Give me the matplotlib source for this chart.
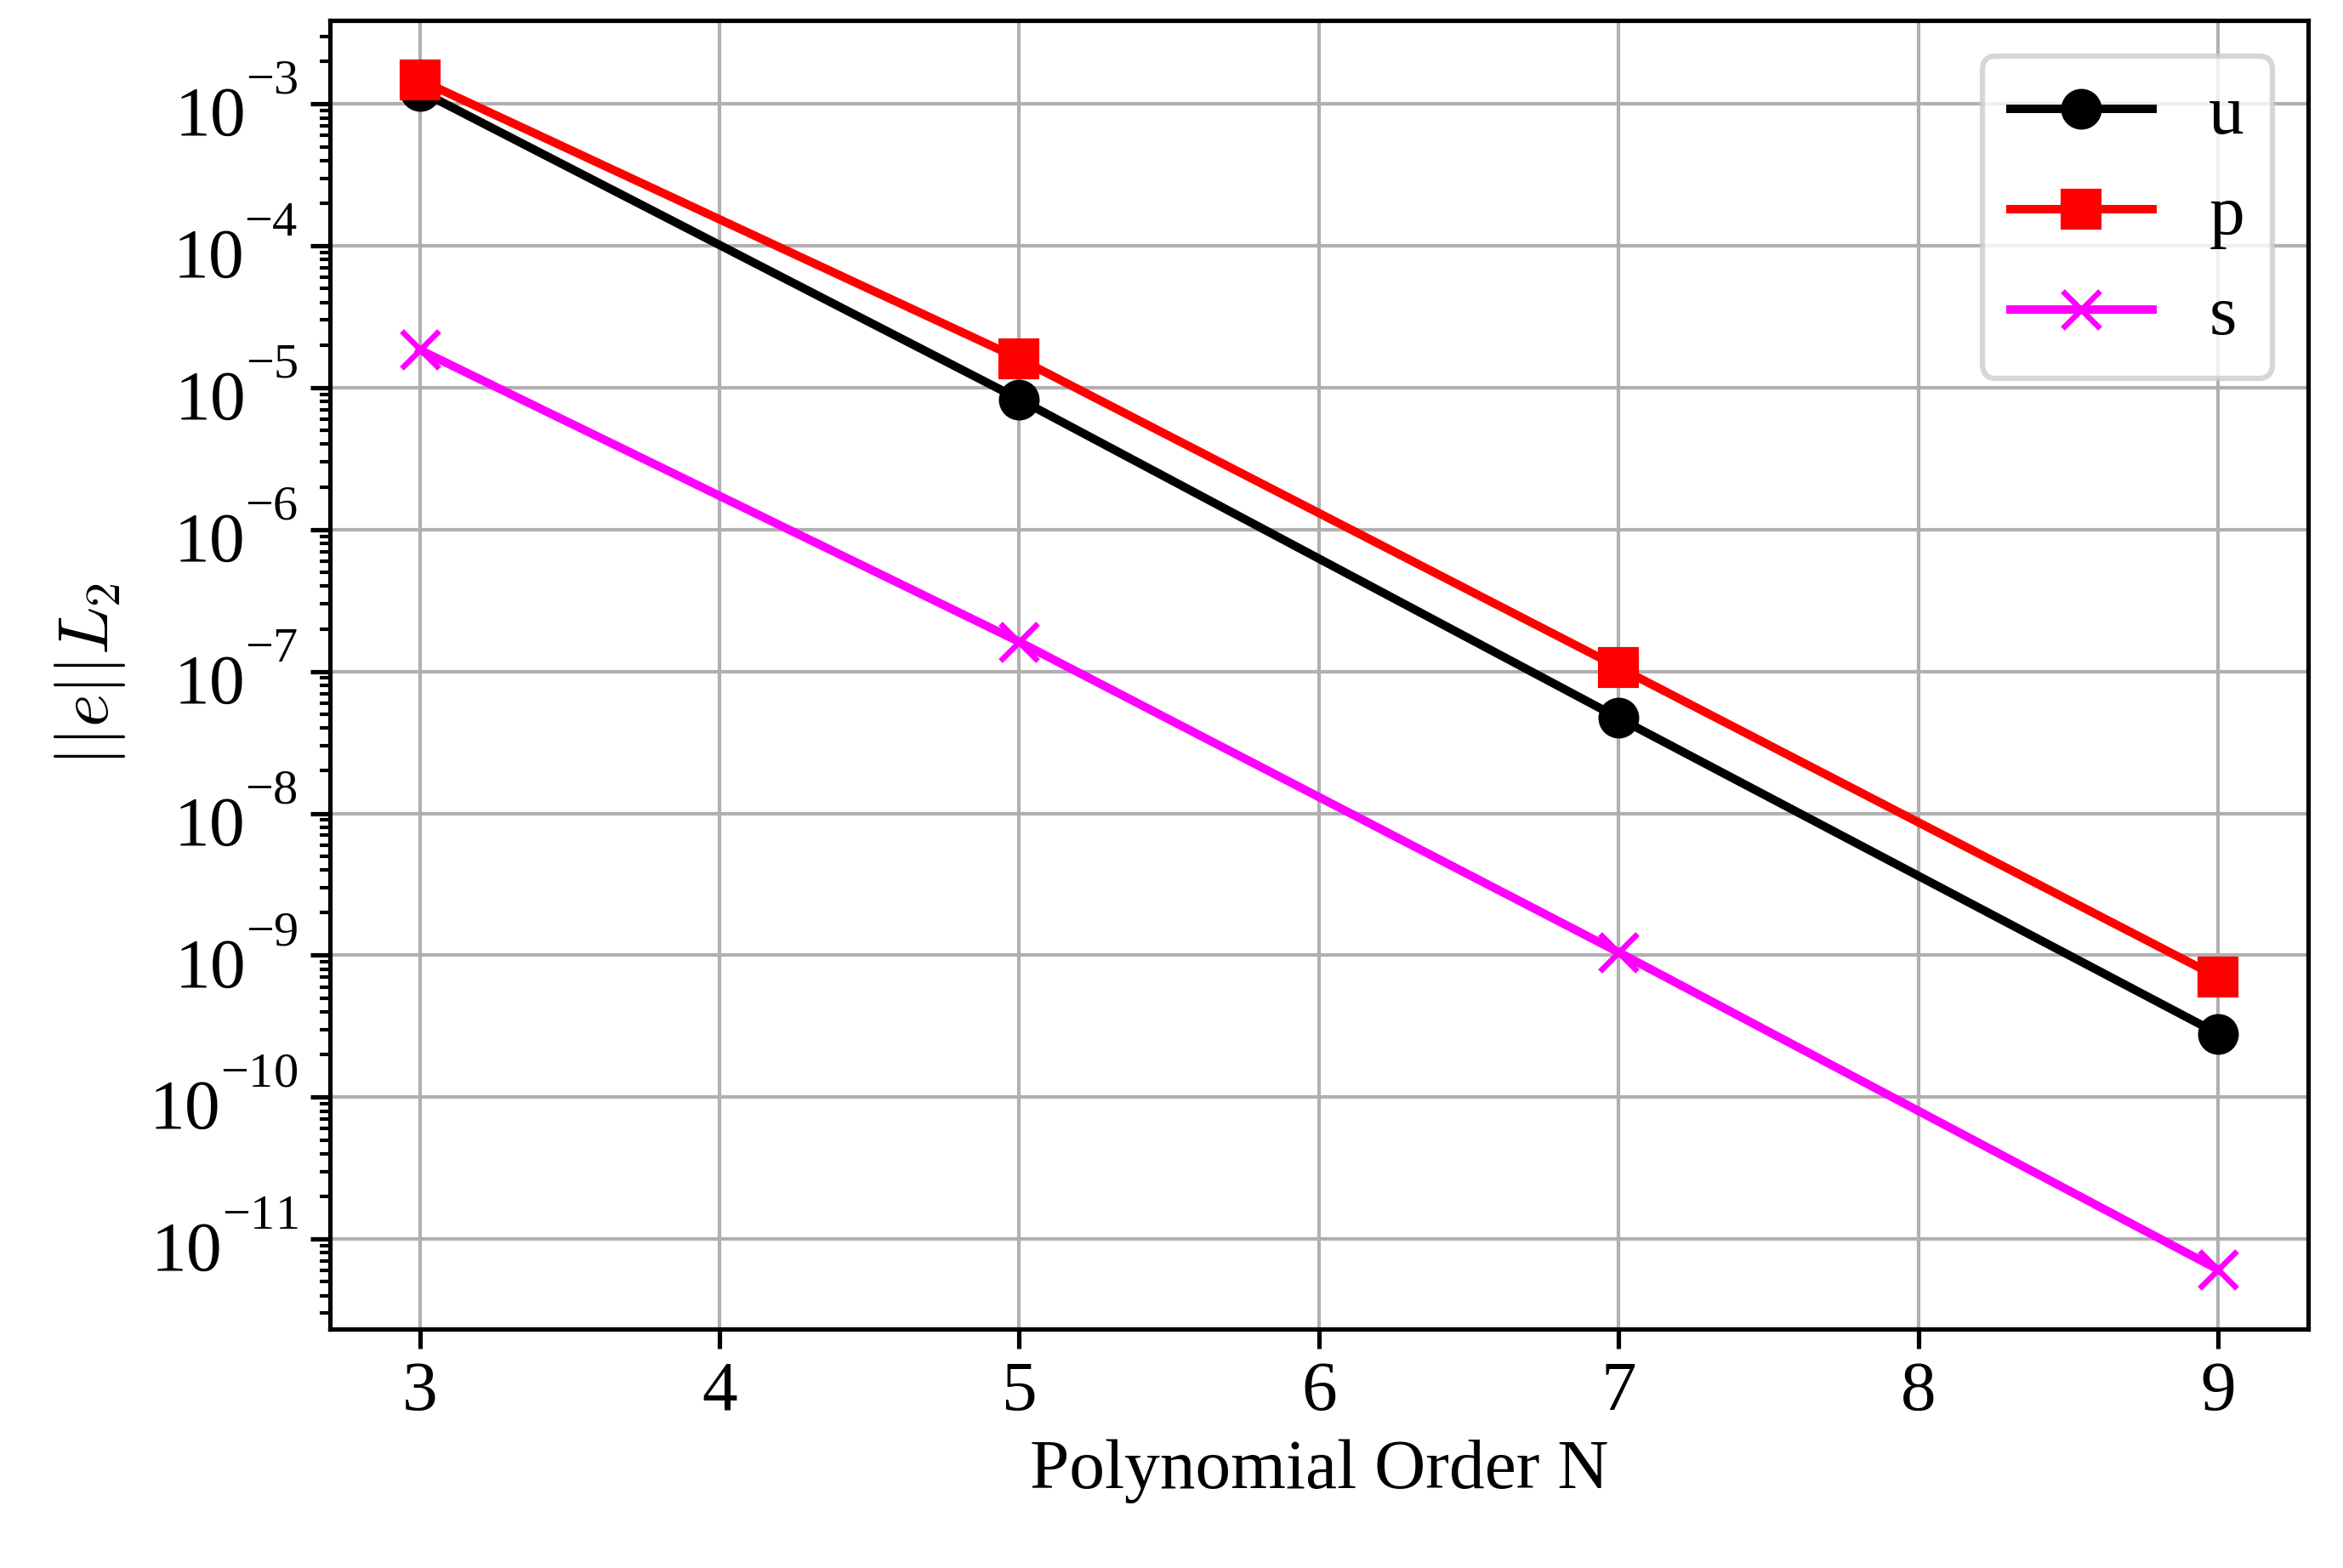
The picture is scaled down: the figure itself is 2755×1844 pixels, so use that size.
import numpy as np
import matplotlib
matplotlib.use("Agg")
import matplotlib.pyplot as plt
import matplotlib._mathtext as mathtext_internal

order = [3, 5, 7, 9]
err_u = [1.24e-3, 8.3e-6, 4.7e-8, 2.8e-10]
err_p = [1.48e-3, 1.6e-5, 1.07e-7, 7.0e-10]
err_s = [1.85e-5, 1.62e-7, 1.05e-9, 6.1e-12]

# raise the exponents of the 10^n tick labels a bit higher (older mathtext look)
mathtext_internal.FontConstantsBase.sup1 = 1.29

plt.rcParams["font.family"] = ["Liberation Serif", "DejaVu Serif"]
plt.rcParams["mathtext.fontset"] = "cm"
plt.rcParams["font.size"] = 20
plt.rcParams["axes.linewidth"] = 1.25
plt.rcParams["xtick.major.size"] = 5.5
plt.rcParams["ytick.major.size"] = 5.5
plt.rcParams["ytick.minor.size"] = 3
plt.rcParams["xtick.major.width"] = 1.25
plt.rcParams["ytick.major.width"] = 1.25
plt.rcParams["ytick.minor.width"] = 1.0

fig = plt.figure(figsize=(2755 / 300, 1844 / 300), dpi=300)
ax = fig.add_axes([0.1408, 0.1524, 0.9851 - 0.1408, 0.987 - 0.1524])

ax.semilogy(order, err_u, "-o", color="black", lw=2.4, ms=10.5, label="u")
ax.semilogy(order, err_p, "-s", color="red", lw=2.4, ms=10.5, label="p")
ax.semilogy(order, err_s, "-x", color="magenta", lw=2.4, ms=10.5, mew=1.6, label="s")

ax.grid(True, color="#b0b0b0", lw=1.0)
ax.set_xlabel("Polynomial Order N")
ax.set_ylabel(r"$||e||L_2$", labelpad=6)

leg = ax.legend(loc="upper right")
leg.get_frame().set_linewidth(1.5)

fig.savefig("out.png", dpi=300)
